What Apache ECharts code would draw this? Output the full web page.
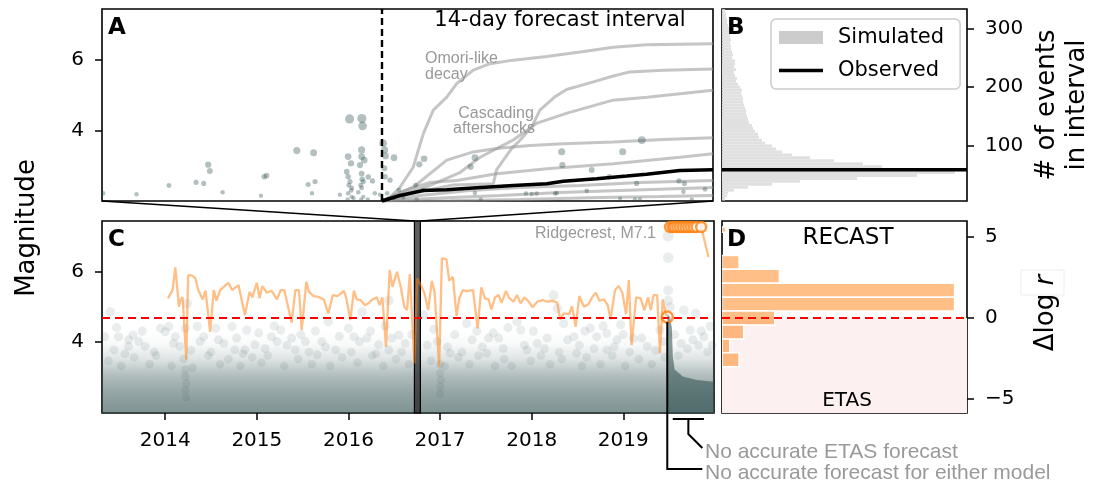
<!DOCTYPE html>
<html><head><meta charset="utf-8">
<script src="https://cdn.jsdelivr.net/npm/echarts@6/dist/echarts.min.js"></script>
<style>html,body{margin:0;padding:0;background:#fff}#c{width:1094px;height:486px}</style>
</head><body><div id="c"></div>
<script>
// ---------------- DATA ----------------
// Panel A: catalog events near the forecast window [days since forecast start, magnitude]
const aCatalog = [[-11.79,2.22],[-10.38,2.19],[-9.01,2.44],[-7.86,2.53],[-7.54,2.50],[-7.35,3.03],[-7.28,2.85],[-6.74,2.25],[-5.12,2.15],[-4.98,2.69],[-4.88,2.72],[-3.60,3.43],[-3.12,2.47],[-2.96,2.22],[-2.89,3.37],[-2.83,2.55],[-1.78,2.18],[-1.37,4.33],[-0.85,4.34],[-0.82,4.13],[-1.43,3.26],[-1.31,3.07],[-0.86,3.45],[-0.86,3.26],[-0.93,3.02],[-0.75,3.16],[-1.49,2.83],[-1.43,2.69],[-1.35,2.55],[-0.86,2.78],[-0.79,2.55],[-0.58,2.68],[-0.40,2.57],[-1.28,2.37],[-0.86,2.37],[-1.00,2.25],[-1.43,2.22],[-1.28,2.12],[-0.79,2.12],[-0.30,2.22],[-0.08,2.18],[-1.40,2.45],[-1.30,2.30],[-0.90,2.45],[-0.84,2.62],[-1.45,2.05],[-0.88,2.05],[-1.20,2.08],[-0.60,2.05],[0.05,3.64],[0.11,3.45],[0.15,3.28],[0.10,2.93],[0.13,2.69],[0.34,2.59],[0.51,3.23],[1.58,3.04],[1.78,3.20],[1.43,2.45],[1.75,2.31],[0.72,2.31],[0.22,2.22],[1.47,2.05],[0.02,2.05],[0.50,2.08],[0.90,2.10],[3.93,3.23],[3.75,2.97],[3.93,2.23],[4.18,2.05],[6.09,2.21],[6.33,2.20],[6.54,2.21],[7.32,2.21],[7.39,2.23],[7.60,3.40],[7.63,3.02],[8.66,2.29],[8.87,2.88],[9.62,2.69],[10.07,2.07],[10.18,3.40],[10.70,2.05],[10.77,2.50],[10.91,2.05],[10.99,3.73],[12.56,2.57],[12.79,2.50],[12.75,2.26],[13.10,2.05],[13.66,2.33]];
// Panel A: simulated cumulative event counts [day, count]
const sim1 = [[0,6.6],[0.34,13],[0.76,30],[1.32,64],[1.75,121],[2.17,161],[2.74,183],[3.16,206],[3.86,229],[4.57,240],[5.55,246],[6.97,252],[8.38,260],[9.78,268],[11.19,272],[14,274]];
const sim2 = [[0,6.6],[1.41,21],[3.02,34],[4.71,36],[4.85,60],[5.49,96],[5.77,107],[6.33,132],[6.68,161],[7.32,184],[7.81,196],[8.94,209],[9.78,219],[10.49,226],[11.9,229],[14,231]];
const sim3 = [[0,6.6],[0.76,16],[2.03,33],[3.30,55],[4.15,81],[5.54,110],[6.56,139],[7.83,156],[9.77,178],[11.21,183],[14,195]];
const sim4 = [[0.05,7.5],[1.32,30],[2.74,76],[3.86,90],[4.85,96],[6.26,101],[7.67,104],[9.78,107],[11.9,111],[14,114]];
const sim5 = [[0,7],[0.97,24.5],[2.03,38],[3.16,41.6],[4.85,53],[6.97,61.5],[9.78,70],[12.6,81],[14,87]];
const sim6 = [[0,6.6],[1.61,16],[3.72,24.5],[5.84,29.6],[8.38,33],[10.91,38],[14,41.6]];
const sim7 = [[0,6.6],[2.03,11],[4.99,16],[7.53,21],[10.07,24.5],[14,29.6]];
const sim8 = [[0,6.6],[2.88,7],[5.84,9.2],[9.22,12.6],[11.76,14.3],[14,16]];
const observedCum = [[0,6.6],[0.05,7.5],[0.76,16],[1.75,24.5],[2.74,25.7],[4.01,29.1],[5.55,33],[6.97,36],[7.67,40],[9.08,44.5],[10.35,49],[11.19,52],[12.6,58.6],[14,59.5]];
const observedCount = 59.5;
// Panel B: histogram of simulated counts (bin centre, frequency)
const bCenters = [10,15,20,25,30,35,40,45,50,55,60,65,70,75,80,85,90,95,100,105,110,115,120,125,130,135,140,145,150,155,160,165,170,175,180,185,190,195,200,205,210,215,220,225,230,235,240,245,250,255,260,265,270,275,280,285,290,295,300,305,310,315,320,325,330];
const bFreq =    [3,5,6,12,26,50,78,135,195,233,200,160,141,112,88,70,60,54,50,43,40,37,36,33,31,30,27,26,25,24,24,23,22,21,21,20,19,20,18,16,14,15,13,12,14,12,13,13,10,11,10,9,9,8,9,8,8,7,8,6,5,5,4,4,3];
const bBinHalf = 2.5;
// Panel C: catalog density envelope and Ridgecrest aftershock column [year, magnitude]
const cEnvelope = [[2013.31,4.3],[2019.99,4.3]];
const cRidgeColumn = [[2019.482,4.8],[2019.51,4.7],[2019.53,4.4],[2019.54,3.6],[2019.56,3.2],[2019.65,3.0],[2019.8,2.9],[2019.99,2.85]];
// Panel C: individual larger events [year, magnitude]
const cCatalog = [[2013.40,4.85],[2013.34,4.14],[2013.49,4.14],[2013.60,4.05],[2013.65,4.19],[2013.71,4.00],[2013.60,3.86],[2013.78,3.86],[2013.44,3.76],[2013.95,4.38],[2014.00,4.28],[2014.04,4.43],[2014.11,4.14],[2014.22,4.38],[2014.24,5.09],[2014.35,4.43],[2014.42,4.14],[2014.55,4.38],[2014.73,4.43],[2014.64,3.95],[2014.76,3.76],[2014.89,4.33],[2014.98,3.91],[2015.16,4.14],[2015.26,4.33],[2015.38,4.10],[2015.22,4.00],[2015.53,4.00],[2015.71,4.00],[2015.78,4.57],[2016.00,4.38],[2016.06,4.14],[2016.15,4.85],[2016.20,4.10],[2016.33,3.91],[2016.44,5.18],[2016.47,4.10],[2016.55,4.19],[2016.62,3.95],[2014.16,3.86],[2014.87,3.76],[2015.42,3.76],[2015.86,3.76],[2016.44,3.76],[2016.82,4.76],[2016.97,4.00],[2017.29,4.52],[2017.35,4.05],[2017.53,4.10],[2017.64,4.10],[2017.84,4.57],[2017.88,4.33],[2018.06,3.95],[2018.24,5.33],[2018.28,4.95],[2018.35,4.52],[2018.46,4.14],[2018.64,4.38],[2018.71,4.14],[2018.82,4.24],[2018.93,4.05],[2018.97,4.48],[2019.11,4.10],[2019.26,3.86],[2019.40,4.33],[2019.66,4.90],[2019.79,4.81],[2019.73,4.33],[2019.88,4.14],[2019.95,4.43],[2017.11,3.67],[2017.51,3.67],[2017.95,3.76],[2018.49,3.67],[2018.82,3.76],
 [2013.38,3.45],[2013.52,3.3],[2013.66,3.55],[2013.83,3.35],[2013.9,3.6],[2014.07,3.3],[2014.2,3.5],[2014.3,3.25],[2014.47,3.6],[2014.6,3.35],[2014.69,3.5],[2014.82,3.3],[2014.95,3.55],[2015.05,3.4],[2015.12,3.6],[2015.3,3.3],[2015.45,3.5],[2015.6,3.35],[2015.66,3.62],[2015.8,3.3],[2015.93,3.55],[2016.1,3.4],[2016.26,3.6],[2016.38,3.3],[2016.52,3.5],[2016.66,3.35],[2016.9,3.45],[2017.05,3.3],[2017.2,3.55],[2017.32,3.35],[2017.42,3.6],[2017.6,3.3],[2017.7,3.5],[2017.78,3.3],[2017.99,3.45],[2018.1,3.6],[2018.2,3.35],[2018.33,3.5],[2018.55,3.3],[2018.6,3.55],[2018.75,3.35],[2018.88,3.6],[2019.02,3.3],[2019.17,3.5],[2019.31,3.35],[2019.45,3.55],[2019.6,3.6],[2019.7,3.8],[2019.82,3.9],[2019.92,3.7],
 [2013.47,4.4],[2013.56,3.65],[2013.75,4.3],[2013.88,3.7],[2014.09,3.95],[2014.28,3.75],[2014.38,4.0],[2014.5,3.7],[2014.58,4.05],[2014.78,4.1],[2014.85,3.65],[2015.02,4.25],[2015.09,3.8],[2015.19,4.45],[2015.33,3.9],[2015.48,4.2],[2015.57,3.7],[2015.64,4.3],[2015.75,3.85],[2015.9,4.15],[2016.03,3.7],[2016.12,4.0],[2016.24,4.3],[2016.3,3.65],[2016.4,4.45],[2016.58,3.7],[2016.69,4.2],[2016.86,3.9],[2016.93,4.35],[2017.08,3.85],[2017.16,4.2],[2017.24,3.7],[2017.4,4.3],[2017.46,3.85],[2017.58,4.25],[2017.69,3.8],[2017.74,4.4],[2017.92,3.9],[2018.02,4.3],[2018.14,3.8],[2018.17,4.1],[2018.3,3.7],[2018.39,4.05],[2018.52,3.9],[2018.58,4.3],[2018.68,3.8],[2018.78,4.45],[2018.9,3.85],[2019.0,4.2],[2019.07,3.7],[2019.2,4.1],[2019.35,3.75],[2019.44,4.0],[2019.56,4.2],[2019.63,3.95],[2019.76,4.05],[2019.85,4.3],[2019.97,3.9],
 [2014.22,3.2],[2014.22,3.0],[2014.23,2.8],[2014.22,2.6],[2014.23,2.4],[2017.0,3.35],[2017.0,3.1],[2017.01,2.9],[2017.0,2.7],[2017.0,2.5],
 [2019.49,7.03],[2019.49,6.41],[2019.49,5.47],[2019.49,5.18],[2019.51,4.99]];
const cBand = [2016.72, 2016.785];
// Panel C: Δlog r per forecast [year, Δlog r]
const cDelta = [[2014.03,1.21],[2014.08,1.72],[2014.11,3.12],[2014.15,0.69],[2014.17,1.14],[2014.19,1.27],[2014.23,-2.57],[2014.25,2.63],[2014.29,2.63],[2014.33,2.44],[2014.36,1.72],[2014.41,1.14],[2014.44,1.68],[2014.49,-0.86],[2014.53,1.72],[2014.56,1.06],[2014.60,1.72],[2014.66,2.03],[2014.69,2.17],[2014.73,1.72],[2014.80,2.03],[2014.87,0.17],[2014.92,1.61],[2014.95,1.27],[2015.00,2.17],[2015.03,1.21],[2015.06,1.97],[2015.11,1.55],[2015.16,1.68],[2015.22,1.14],[2015.26,1.72],[2015.30,1.72],[2015.38,-0.30],[2015.42,1.72],[2015.46,1.72],[2015.49,-0.75],[2015.54,2.23],[2015.57,1.61],[2015.62,1.35],[2015.67,1.30],[2015.73,1.14],[2015.78,0.28],[2015.83,1.41],[2015.88,1.35],[2015.92,1.52],[2015.95,1.68],[2015.98,1.14],[2016.02,-0.14],[2016.06,1.68],[2016.09,1.14],[2016.13,1.10],[2016.18,0.79],[2016.22,0.90],[2016.26,1.14],[2016.31,1.27],[2016.34,0.79],[2016.37,1.27],[2016.41,-1.79],[2016.45,2.96],[2016.48,1.92],[2016.53,2.85],[2016.57,1.92],[2016.61,0.69],[2016.64,0.48],[2016.67,2.71],[2016.72,-2.81],[2016.75,2.44],[2016.80,1.92],[2016.83,1.52],[2016.87,0.48],[2016.91,2.29],[2016.94,1.61],[2016.99,-3.02],[2017.02,3.68],[2017.07,3.62],[2017.10,2.29],[2017.14,2.54],[2017.18,0.11],[2017.21,1.21],[2017.25,1.72],[2017.29,1.66],[2017.36,1.72],[2017.41,-0.65],[2017.45,1.89],[2017.49,1.21],[2017.53,1.14],[2017.56,0.53],[2017.60,1.27],[2017.64,1.41],[2017.67,0.93],[2017.72,1.66],[2017.75,1.27],[2017.80,1.00],[2017.84,1.41],[2017.88,0.90],[2017.92,1.27],[2017.96,1.06],[2018.01,0.65],[2018.06,1.00],[2018.12,1.10],[2018.17,1.00],[2018.23,1.06],[2018.28,0.93],[2018.31,-0.09],[2018.35,0.28],[2018.41,0.23],[2018.44,0.73],[2018.48,-0.55],[2018.52,1.35],[2018.57,0.69],[2018.62,0.85],[2018.66,1.27],[2018.70,1.55],[2018.74,1.06],[2018.79,1.14],[2018.83,0.79],[2018.86,-0.09],[2018.91,1.72],[2018.95,1.97],[2018.99,1.55],[2019.03,0.23],[2019.06,2.34],[2019.09,-1.68],[2019.14,1.27],[2019.19,1.21],[2019.23,0.48],[2019.27,1.27],[2019.30,0.48],[2019.33,1.41],[2019.37,1.41],[2019.40,-2.20],[2019.43,1.14],[2019.47,0.11],null,[2019.85,5.62],[2019.93,3.76]];
const cTopYears = [2019.51,2019.54,2019.56,2019.59,2019.62,2019.65,2019.68,2019.71,2019.74,2019.77,2019.80,2019.85];
const cTopDelta = 5.62;
const ridgeYear = 2019.48;
const ridgeDelta = 0.05;
// Panel D: histogram of Δlog r
const dLo =   [3.00,2.14,1.28,0.42,-0.44,-1.30,-2.16,-3.02,5.30];
const dHi =   [3.86,3.00,2.14,1.28, 0.42,-0.44,-1.30,-2.16,5.62];
const dFreq = [2.2, 7.4, 30, 30, 6.8, 2.8, 1.0, 2.2, 0.5];
// Ticks / ranges
const yearTicks = [2014,2015,2016,2017,2018,2019];
const magTicks = [4,6];
const countTicks = [100,200,300];
const deltaTicks = [-5,0,5];
const aDayRange = [-11.84, 14];
const aMagRange = [2.0, 7.45];
const cMagRange = [1.95, 7.46];
const countRange = [6.6, 332.9];
const yearRange = [2013.31, 2019.99];
const deltaRange = [-5.88, 5.99];
const bFreqMax = 245, dFreqMax = 31.6;
const etasGap = [2019.54, 2019.88];

// ---------------- CHART ----------------
const FONT = 'DejaVu Sans';
const SANS = 'Liberation Sans';
const chart = echarts.init(document.getElementById('c'));
const tickStyle = {length:7, lineStyle:{color:'#000', width:1.5}};
function magAxis(grid, rng){
  return {type:'value', gridIndex:grid, min:rng[0], max:rng[1], position:'left',
    axisLine:{show:false, onZero:false}, splitLine:{show:false},
    axisTick:Object.assign({show:true, customValues:magTicks}, tickStyle),
    axisLabel:{customValues:magTicks, fontSize:20, fontFamily:FONT, color:'#000', margin:18}};
}
function rightAxis(grid, rng, ticks){
  return {type:'value', gridIndex:grid, min:rng[0], max:rng[1], position:'right',
    axisLine:{show:false, onZero:false}, splitLine:{show:false},
    axisTick:Object.assign({show:true, customValues:ticks}, tickStyle),
    axisLabel:{customValues:ticks, fontSize:20, fontFamily:FONT, color:'#000', margin:18,
      formatter:v=> v<0 ? '\u2212'+Math.abs(v) : String(v)}};
}
function hiddenY(grid, rng){
  return {type:'value', gridIndex:grid, min:rng[0], max:rng[1], show:false, position:'right',
    axisLine:{show:false, onZero:false}, axisTick:{show:false}, axisLabel:{show:false}, splitLine:{show:false}};
}
function hiddenX(grid, mx0, mx1){
  return {type:'value', gridIndex:grid, min:mx0, max:mx1, show:false,
    axisLine:{show:false, onZero:false}, axisTick:{show:false}, axisLabel:{show:false}, splitLine:{show:false}};
}
function hbar(fill, stroke, lw){
  return function(params, api){
    const lo = api.value(0), hi = api.value(1), v = api.value(2);
    const p0 = api.coord([0, hi]), p1 = api.coord([v, lo]);
    return {type:'rect', shape:{x:p0[0], y:p0[1], width:p1[0]-p0[0], height:p1[1]-p0[1]},
      style:{fill:fill, stroke:stroke, lineWidth:lw}};
  };
}
const gridBase = {show:true, borderColor:'#000', borderWidth:1.6, backgroundColor:'rgba(0,0,0,0)', containLabel:false, outerBoundsMode:'none'};
const simColor = 'rgba(150,150,150,0.55)';
function simSeries(d){
  return {type:'line', xAxisIndex:0, yAxisIndex:1, data:d, symbol:'none', silent:true,
    lineStyle:{color:simColor, width:3}, z:2};
}
const bData = bCenters.map((c,i)=>[c-bBinHalf, c+bBinHalf, bFreq[i]]);
const dData = dLo.map((lo,i)=>[lo, dHi[i], dFreq[i]]);

const option = {
  animation:false,
  backgroundColor:'#fff',
  grid:[
    Object.assign({left:102, top:9, width:611, height:192}, gridBase),
    Object.assign({left:722, top:9, width:245, height:192}, gridBase),
    Object.assign({left:102, top:221, width:612, height:192}, gridBase),
    Object.assign({left:722, top:221, width:245, height:192}, gridBase)
  ],
  legend:{orient:'vertical', left:771, top:19, itemWidth:44, itemHeight:13, itemGap:12,
    selectedMode:false, symbolKeepAspect:true,
    data:[{name:'Simulated', icon:'rect', itemStyle:{color:'#cccccc'}},
          {name:'Observed', icon:'path://M0,0 L44,0 L44,3.6 L0,3.6 Z', itemStyle:{color:'#000'}}],
    textStyle:{fontSize:21, fontFamily:FONT, color:'#000', padding:[0,0,0,10]},
    borderColor:'#cccccc', borderWidth:1.5, borderRadius:5, padding:[8,16,8,8],
    backgroundColor:'rgba(255,255,255,0.85)'},
  xAxis:[
    hiddenX(0, aDayRange[0], aDayRange[1]),
    hiddenX(1, 0, bFreqMax),
    {type:'value', gridIndex:2, min:yearRange[0], max:yearRange[1],
      axisLine:{show:false, onZero:false}, splitLine:{show:false},
      axisTick:Object.assign({show:true, customValues:yearTicks}, tickStyle),
      axisLabel:{customValues:yearTicks, formatter:v=>String(Math.round(v)), fontSize:20, fontFamily:FONT, color:'#000', margin:18}},
    hiddenX(3, 0, dFreqMax)
  ],
  yAxis:[
    magAxis(0, aMagRange),
    hiddenY(0, countRange),
    rightAxis(1, countRange, countTicks),
    magAxis(2, cMagRange),
    hiddenY(2, deltaRange),
    rightAxis(3, deltaRange, deltaTicks)
  ],
  series:[
    // 0 A catalog
    {type:'scatter', xAxisIndex:0, yAxisIndex:0, data:aCatalog, silent:true, z:3,
      symbolSize:v=>4+2.2*(v[1]-2), itemStyle:{color:'rgba(47,79,79,0.45)'}},
    simSeries(sim1), simSeries(sim2), simSeries(sim3), simSeries(sim4),
    simSeries(sim5), simSeries(sim6), simSeries(sim7), simSeries(sim8),
    // 9 A observed cumulative
    {type:'line', name:'Observed cumulative', xAxisIndex:0, yAxisIndex:1, data:observedCum, symbol:'none', silent:true, z:4,
      lineStyle:{color:'#000', width:3.5},
      markLine:{silent:true, symbol:['none','none'], label:{show:false}, lineStyle:{color:'#000', width:2.4, type:[7,4]}, data:[{xAxis:0}]}},
    // 10 B histogram
    {type:'custom', name:'Simulated', xAxisIndex:1, yAxisIndex:2, data:bData, clip:true, silent:true,
      itemStyle:{color:'#cccccc'}, renderItem:hbar('#e0e0e0', null, 0)},
    // 11 B observed
    {type:'line', name:'Observed', xAxisIndex:1, yAxisIndex:2, data:[[0,observedCount],[bFreqMax,observedCount]], symbol:'none', silent:true, z:4,
      itemStyle:{color:'#000'}, lineStyle:{color:'#000', width:3.5}},
    // 12 C density background
    {type:'line', xAxisIndex:2, yAxisIndex:3, data:cEnvelope, symbol:'none', silent:true, z:1,
      lineStyle:{width:0},
      areaStyle:{origin:'start', color:new echarts.graphic.LinearGradient(0,0,0,1,[
        {offset:0, color:'rgba(47,79,79,0)'},{offset:0.17, color:'rgba(47,79,79,0.05)'},
        {offset:0.34, color:'rgba(47,79,79,0.22)'},{offset:0.52, color:'rgba(47,79,79,0.5)'},
        {offset:0.69, color:'rgba(47,79,79,0.68)'},{offset:0.86, color:'rgba(47,79,79,0.8)'},
        {offset:1, color:'rgba(47,79,79,0.88)'}])}},
    // 13 C ridgecrest column
    {type:'line', xAxisIndex:2, yAxisIndex:3, data:cRidgeColumn, symbol:'none', silent:true, z:1,
      lineStyle:{width:0}, areaStyle:{origin:'start', color:'rgba(47,79,79,0.8)'}},
    // 14 C catalog
    {type:'scatter', xAxisIndex:2, yAxisIndex:3, data:cCatalog, silent:true, z:2,
      symbolSize:v=>7.5+0.7*(v[1]-2), itemStyle:{color:'rgba(47,79,79,0.13)'}},
    // 15 C forecast-window band
    {type:'custom', xAxisIndex:2, yAxisIndex:3, data:[[cBand[0], cBand[1]]], silent:true, z:3,
      renderItem:function(p, api){
        const a = api.coord([api.value(0), cMagRange[1]]), b = api.coord([api.value(1), cMagRange[0]]);
        return {type:'rect', shape:{x:a[0], y:a[1], width:b[0]-a[0], height:b[1]-a[1]},
          style:{fill:'rgba(40,40,40,0.75)', stroke:'#000', lineWidth:1.2}};
      }},
    // 16 C Δlog r line
    {type:'line', xAxisIndex:2, yAxisIndex:4, data:cDelta, symbol:'none', silent:true, z:4, connectNulls:false,
      lineStyle:{color:'rgba(255,127,14,0.5)', width:2.3},
      markLine:{silent:true, symbol:['none','none'], label:{show:false}, lineStyle:{color:'#ff0000', width:2, type:[8,5]}, data:[{yAxis:0}]}},
    // 17 C off-scale markers
    {type:'scatter', xAxisIndex:2, yAxisIndex:4, data:cTopYears.map(y=>[y,cTopDelta]), silent:true, z:5,
      symbolSize:10, itemStyle:{color:'#fff', borderColor:'#ff7f0e', borderWidth:2.5}},
    // 18 C Ridgecrest marker
    {type:'scatter', xAxisIndex:2, yAxisIndex:4, data:[[ridgeYear, ridgeDelta]], silent:true, z:5,
      symbolSize:11, itemStyle:{color:'rgba(0,0,0,0)', borderColor:'#ff7f0e', borderWidth:2.5}},
    // 19 D pink ETAS half
    {type:'custom', xAxisIndex:3, yAxisIndex:5, data:[[deltaRange[0], 0]], silent:true, z:1,
      renderItem:function(p, api){
        const a = api.coord([0, api.value(1)]), b = api.coord([dFreqMax, api.value(0)]);
        return {type:'rect', shape:{x:a[0], y:a[1], width:b[0]-a[0], height:b[1]-a[1]}, style:{fill:'#fdf0f0'}};
      }},
    // 20 D histogram
    {type:'custom', xAxisIndex:3, yAxisIndex:5, data:dData, clip:true, silent:true, z:2,
      renderItem:hbar('rgba(255,127,14,0.5)', '#fff', 1.5)},
    // 21 D zero line
    {type:'line', xAxisIndex:3, yAxisIndex:5, data:[[0,0],[dFreqMax,0]], symbol:'none', silent:true, z:3,
      lineStyle:{color:'#ff0000', width:2, type:[8,5]}}
  ]
};
chart.setOption(option);

// ---------------- ANNOTATIONS ----------------
const S_A = 0, S_CCAT = 14, S_DELTA = 16;
const px = (s, v) => chart.convertToPixel({seriesIndex:s}, v);
const aBL = px(S_A, [aDayRange[0], aMagRange[0]]);
const aBR = px(S_A, [aDayRange[1], aMagRange[0]]);
const bTL = px(S_CCAT, [cBand[0], cMagRange[1]]);
const bTR = px(S_CCAT, [cBand[1], cMagRange[1]]);
const rTop = px(S_DELTA, [ridgeYear, ridgeDelta]);
const cBot = px(S_CCAT, [ridgeYear, cMagRange[0]]);
const gL = px(S_CCAT, [etasGap[0], cMagRange[0]]);
const gR = px(S_CCAT, [etasGap[1], cMagRange[0]]);
const lineSt = {stroke:'#000', lineWidth:1.6};
const gray = '#999999';
function txt(x, y, text, size, opts){
  return Object.assign({type:'text', x:x, y:y, silent:true, z:100, style:Object.assign({
    text:text, fontSize:size, fontFamily:FONT, fill:'#000',
    align:'left', verticalAlign:'middle', textAlign:'left', textVerticalAlign:'middle'}, (opts||{}).style||{})},
    (opts||{}).el||{});
}
const yb = cBot[1] + 6, midX = (gL[0]+gR[0])/2;
const leaderY = 469;
chart.setOption({graphic:[
  {type:'line', silent:true, z:50, shape:{x1:aBL[0], y1:aBL[1], x2:bTL[0], y2:bTL[1]}, style:lineSt},
  {type:'line', silent:true, z:50, shape:{x1:aBR[0], y1:aBR[1], x2:bTR[0], y2:bTR[1]}, style:lineSt},
  {type:'polyline', silent:true, z:50, shape:{points:[[rTop[0], rTop[1]+5],[rTop[0], leaderY],[rTop[0]+35, leaderY]]}, style:{stroke:'#000', lineWidth:2, fill:null}},
  {type:'line', silent:true, z:50, shape:{x1:gL[0], y1:yb, x2:gR[0], y2:yb}, style:{stroke:'#000', lineWidth:2}},
  {type:'polyline', silent:true, z:50, shape:{points:[[midX, yb],[midX, yb+15],[midX+14, yb+29]]}, style:{stroke:'#000', lineWidth:2, fill:null}},
  txt(108, 28, 'A', 23, {style:{fontWeight:'bold'}}),
  txt(727, 28, 'B', 23, {style:{fontWeight:'bold'}}),
  txt(108, 240, 'C', 23, {style:{fontWeight:'bold'}}),
  txt(727, 240, 'D', 23, {style:{fontWeight:'bold'}}),
  txt(560, 21, '14-day forecast interval', 21, {style:{align:'center', textAlign:'center'}}),
  txt(425, 59, 'Omori-like', 16, {style:{fontFamily:SANS, fill:gray}}),
  txt(425, 75, 'decay', 16, {style:{fontFamily:SANS, fill:gray}}),
  txt(496, 114, 'Cascading', 16, {style:{fontFamily:SANS, fill:gray, align:'center', textAlign:'center'}}),
  txt(494, 129, 'aftershocks', 16, {style:{fontFamily:SANS, fill:gray, align:'center', textAlign:'center'}}),
  txt(656, 234, 'Ridgecrest, M7.1', 16, {style:{fontFamily:SANS, fill:gray, align:'right', textAlign:'right'}}),
  txt(848, 238, 'RECAST', 23, {style:{align:'center', textAlign:'center'}}),
  txt(847, 401, 'ETAS', 20, {style:{align:'center', textAlign:'center'}}),
  txt(27, 228, 'Magnitude', 26, {style:{align:'center', textAlign:'center'}, el:{rotation:Math.PI/2}}),
  txt(1062, 105, '# of events\nin interval', 26, {style:{align:'center', textAlign:'center', lineHeight:30}, el:{rotation:Math.PI/2}}),
  {type:'rect', silent:true, z:90, shape:{x:1021, y:270, width:43, height:25}, style:{fill:'#fff', stroke:'#ececec', lineWidth:1}},
  {type:'text', x:1046, y:313, rotation:Math.PI/2, silent:true, z:100, style:{
    text:'{a|\u0394log }{b|r}', align:'center', verticalAlign:'middle', textAlign:'center', textVerticalAlign:'middle',
    rich:{a:{fontSize:26, fontFamily:FONT, fill:'#000'}, b:{fontSize:26, fontFamily:FONT, fontStyle:'italic', fill:'#000'}}}},
  txt(705, 452, 'No accurate ETAS forecast', 21, {style:{fontFamily:SANS, fill:gray}}),
  txt(705, 473, 'No accurate forecast for either model', 21, {style:{fontFamily:SANS, fill:gray}})
]});
</script></body></html>
